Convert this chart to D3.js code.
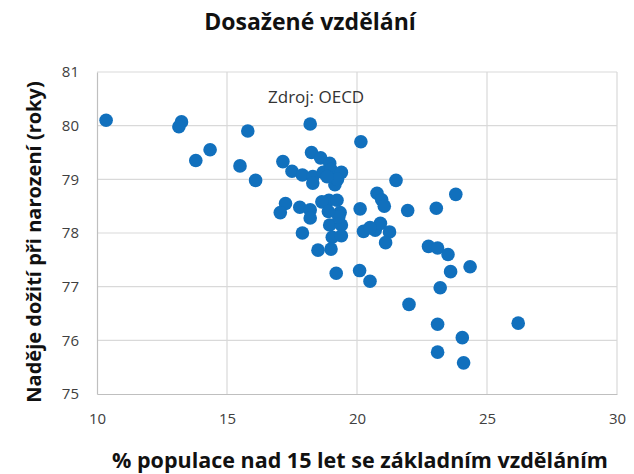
<!DOCTYPE html>
<html><head><meta charset="utf-8">
<script src="https://cdn.jsdelivr.net/npm/d3@7"></script>
<style>body{margin:0;background:#fff;} text{font-family:"Open Sans","Liberation Sans",sans-serif;}</style>
</head><body><svg id="c" width="634" height="474"></svg>
<script>
const xTicks = [10, 15, 20, 25, 30];
const yTicks = [75, 76, 77, 78, 79, 80, 81];
const xVals = [10.35,13.25,13.15,14.35,13.8,15.8,15.5,16.1,
 18.2,20.15,18.25,17.15,18.6,18.95,17.5,17.9,18.3,18.7,19.0,19.4,18.3,19.15,19.25,18.85,
 21.5,20.77,20.95,21.05,20.12,21.95,23.05,23.8,18.92,19.23,
 17.25,17.05,17.8,18.2,18.65,18.2,17.9,19.35,18.95,19.4,19.05,19.4,18.5,19.0,19.3,18.9,
 20.25,20.7,20.9,21.25,21.1,20.5,
 19.2,20.1,20.5,22.75,23.1,23.5,23.6,24.35,23.2,22.0,23.1,26.2,24.05,23.1,24.1];
const yVals = [80.1,80.07,79.98,79.55,79.35,79.9,79.25,78.98,
 80.03,79.7,79.5,79.33,79.4,79.3,79.15,79.08,79.05,79.13,79.18,79.13,78.93,78.9,79.0,79.05,
 78.98,78.74,78.62,78.5,78.45,78.42,78.46,78.72,78.61,78.61,
 78.55,78.38,78.48,78.43,78.58,78.28,78.0,78.38,78.15,78.15,77.92,77.95,77.68,77.7,78.3,78.4,
 78.03,78.05,78.18,78.02,77.82,78.1,
 77.25,77.3,77.1,77.75,77.72,77.6,77.28,77.37,76.98,76.67,76.3,76.32,76.05,75.78,75.58];

const svg = d3.select("#c");
const L = 97, R = 617, T = 72, B = 394;
const x = d3.scaleLinear().domain([10, 30]).range([L, R]);
const y = d3.scaleLinear().domain([75, 81]).range([B, T]);

// gridlines
svg.append("g").selectAll("line.h").data(yTicks.slice(1)).join("line")
  .attr("x1", L).attr("x2", R).attr("y1", d => y(d)).attr("y2", d => y(d))
  .attr("stroke", "#d9d9d9").attr("stroke-width", 1.2);
svg.append("g").selectAll("line.v").data(xTicks.slice(1)).join("line")
  .attr("y1", T).attr("y2", B).attr("x1", d => x(d)).attr("x2", d => x(d))
  .attr("stroke", "#d9d9d9").attr("stroke-width", 1.2);

// axes
const xa = svg.append("g").attr("transform", `translate(0,${B})`)
  .call(d3.axisBottom(x).tickValues(xTicks).tickFormat(d3.format("d")).tickSize(0).tickPadding(19));
const ya = svg.append("g").attr("transform", `translate(${L},0)`)
  .call(d3.axisLeft(y).tickValues(yTicks).tickFormat(d3.format("d")).tickSize(0).tickPadding(18));
[xa, ya].forEach(a => {
  a.select(".domain").attr("stroke", "#bfbfbf").attr("stroke-width", 1.2);
  a.selectAll("text").attr("font-size", 15).attr("fill", "#404040")
    .attr("font-family", "'Open Sans','Liberation Sans',sans-serif");
});

// points
svg.append("g").selectAll("circle").data(xVals.map((v, i) => [v, yVals[i]])).join("circle")
  .attr("cx", d => x(d[0])).attr("cy", d => y(d[1])).attr("r", 6.8)
  .attr("fill", "#1170bd");

// texts
svg.append("text").attr("x", 268).attr("y", 103).attr("font-size", 17)
  .attr("fill", "#333").text("Zdroj: OECD");
svg.append("text").attr("x", 310).attr("y", 30).attr("text-anchor", "middle")
  .attr("font-size", 23).attr("font-weight", "bold").attr("fill", "#111").text("Dosažené vzdělání");
svg.append("text").attr("x", 360).attr("y", 468).attr("text-anchor", "middle")
  .attr("font-size", 21.5).attr("font-weight", "bold").attr("fill", "#111")
  .text("% populace nad 15 let se základním vzděláním");
svg.append("text").attr("transform", "translate(41,242) rotate(-90)").attr("text-anchor", "middle")
  .attr("font-size", 20).attr("font-weight", "bold").attr("fill", "#111")
  .text("Naděje dožití při narození (roky)");
</script></body></html>
